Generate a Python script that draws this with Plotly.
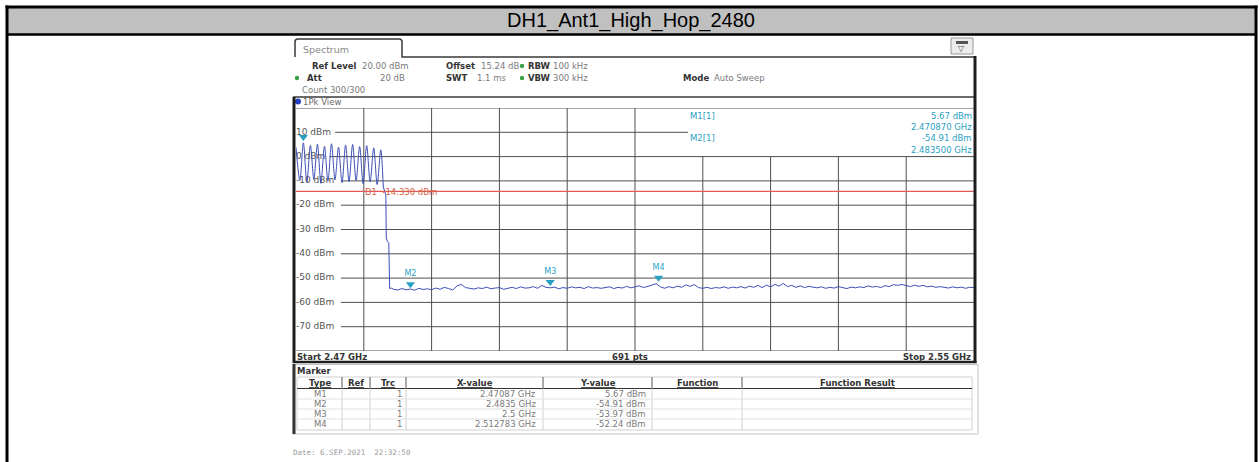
import plotly.graph_objects as go

W, H = 1260, 462

title_text = "DH1_Ant1_High_Hop_2480"

# Sweep settings
f_start_ghz, f_stop_ghz = 2.47, 2.55
level_top, level_bottom = 20, -80
d1_level = -14.33

# Hopping channels (peaks / troughs of the max-hold trace)
hop_freq_mhz = [2470.00, 2470.46, 2470.87, 2471.28, 2471.70, 2472.11, 2472.53, 2472.94,
                2473.36, 2473.77, 2474.19, 2474.60, 2475.02, 2475.43, 2475.85, 2476.26,
                2476.68, 2477.09, 2477.51, 2477.92, 2478.34, 2478.75, 2479.17, 2479.58,
                2480.00, 2480.30]
hop_level = [3.8, -9.8, 5.67, -10.6, 4.6, -9.4, 5.1, -11.0,
             4.2, -10.1, 5.3, -9.6, 3.9, -10.8, 4.8, -10.3,
             5.0, -9.9, 4.1, -11.2, 4.5, -10.4, 3.6, -11.5,
             2.8, -12.5]

# Band edge roll-off
edge_freq_mhz = [2480.30, 2480.50, 2480.60, 2480.65, 2480.80, 2480.95, 2481.05, 2481.25]
edge_level = [-12.5, -15.3, -15.6, -33.5, -35.0, -35.4, -54.3, -54.1]

# Noise floor, 0.5 MHz spacing from 2481.5 MHz
floor_start_mhz = 2481.5
floor_step_mhz = 0.5
floor_level = [
    -54.6, -54.9, -54.3, -54.8, -54.5, -55.0, -54.2, -54.7, -54.4, -54.8,
    -54.1, -54.6, -53.8, -54.3, -54.9, -53.2, -52.6, -53.9, -54.2, -54.5,
    -54.0, -54.3, -53.7, -54.4, -54.1, -53.9, -54.6, -54.2, -53.8, -54.3,
    -53.6, -54.1, -54.0, -53.5, -54.2, -53.0, -53.8, -54.0, -53.7, -54.4,
    -53.9, -54.2, -53.6, -54.0, -53.8, -54.3, -53.5, -54.1, -53.9, -54.2,
    -54.0, -53.6, -54.3, -53.8, -54.1, -53.4, -54.0, -53.7, -53.2, -53.9,
    -53.5, -52.9, -52.3, -53.6, -54.2, -53.5, -54.0, -53.3, -53.8, -52.8,
    -53.4, -52.7, -53.9, -54.2, -53.8, -54.3, -53.9, -54.1, -53.6, -54.2,
    -53.7, -54.0, -53.5, -54.1, -53.3, -53.8, -53.0, -53.9, -52.9, -53.6,
    -52.6, -53.3, -52.2, -53.5, -53.0, -53.8, -53.2, -53.9, -53.4, -53.7,
    -54.0, -53.6, -54.2, -53.8, -54.1, -53.5, -53.9, -54.3, -53.7, -54.0,
    -53.6, -53.9, -53.2, -53.7, -53.4, -53.9, -53.1, -53.5, -52.7, -53.0,
    -52.6, -53.2, -53.5, -52.9, -53.4, -53.0, -53.6, -53.3, -53.8, -53.5,
    -53.9, -54.1, -53.6, -54.0, -53.7, -54.2, -53.8, -53.9,
]

# Markers
marker_names = ["M1", "M2", "M3", "M4"]
marker_freq_ghz = [2.47087, 2.4835, 2.5, 2.512783]
marker_level = [5.67, -54.91, -53.97, -52.24]
marker_x_text = ["2.47087 GHz", "2.4835 GHz", "2.5 GHz", "2.512783 GHz"]
marker_y_text = ["5.67 dBm", "-54.91 dBm", "-53.97 dBm", "-52.24 dBm"]
marker_trc = ["1", "1", "1", "1"]

y_tick_values = [10, 0, -10, -20, -30, -40, -50, -60, -70]

# ---------------------------------------------------------------- geometry
GL, GR, GT, GB = 296, 974, 108, 351      # grid box in pixels
INFO_L, INFO_B = 688, 156                # marker read-out box

FONT = "DejaVu Sans"
TEAL = "#2a9fc4"
TRACE = "#3c4fb6"
GRID = "#4f4f4f"
LABEL = "#333333"
VALUE = "#7a7a7a"

shapes = []
annotations = []


def X(px):
    return px / W


def Y(py):
    return 1 - py / H


def line(x0, y0, x1, y1, color, width=1, layer="above"):
    shapes.append(dict(type="line", xref="paper", yref="paper",
                       x0=X(x0), y0=Y(y0), x1=X(x1), y1=Y(y1),
                       line=dict(color=color, width=width), layer=layer))


def rect(x0, y0, x1, y1, fill=None, color=None, width=0, layer="above"):
    shapes.append(dict(type="rect", xref="paper", yref="paper",
                       x0=X(x0), y0=Y(y0), x1=X(x1), y1=Y(y1),
                       fillcolor=fill or "rgba(0,0,0,0)",
                       line=dict(color=color or "rgba(0,0,0,0)", width=width),
                       layer=layer))


def dot(cx, cy, r, color):
    shapes.append(dict(type="circle", xref="paper", yref="paper",
                       x0=X(cx - r), y0=Y(cy + r), x1=X(cx + r), y1=Y(cy - r),
                       fillcolor=color, line=dict(width=0)))


def text(x, y, s, size=8.5, color=LABEL, anchor="left", bold=False, family=FONT):
    annotations.append(dict(x=X(x), y=Y(y), xref="paper", yref="paper",
                            text=f"<b>{s}</b>" if bold else s, showarrow=False,
                            xanchor=anchor, yanchor="middle",
                            borderpad=0, borderwidth=0,
                            font=dict(family=family, size=size, color=color)))


def px_to_ghz(px):
    return f_start_ghz + (px - GL) / (GR - GL) * (f_stop_ghz - f_start_ghz)


def py_to_dbm(py):
    return level_top - (py - GT) / (GB - GT) * (level_top - level_bottom)


def grid(x0, y0, x1, y1):
    shapes.append(dict(type="line", xref="x", yref="y", x0=x0, y0=y0, x1=x1, y1=y1,
                       line=dict(color=GRID, width=1), layer="below"))


# ---------------------------------------------------------------- grid
label_text = [f"{v} dBm" for v in y_tick_values]
n_div = 10
for k in range(1, n_div):
    fx = f_start_ghz + k * (f_stop_ghz - f_start_ghz) / n_div
    top = 0 if fx > px_to_ghz(INFO_L) else level_top
    grid(fx, level_bottom, fx, top)
grid(f_start_ghz, level_top, f_stop_ghz, level_top)
grid(f_start_ghz, level_bottom, f_stop_ghz, level_bottom)
for v, s in zip(y_tick_values, label_text):
    x_from = px_to_ghz(301 + 5.7 * len(s))
    x_to = px_to_ghz(INFO_L) if v > 0 else f_stop_ghz
    grid(x_from, v, x_to, v)

# ---------------------------------------------------------------- outer table
rect(7, 7, 1256, 34, fill="#c0c0c0")
line(5.5, 7, 1257.5, 7, "#000000", 3)
line(7, 34.5, 1256, 34.5, "#000000", 2.5)
line(7, 5.5, 7, 462, "#000000", 3)
line(1256, 5.5, 1256, 462, "#000000", 3)
text(631, 21, title_text, size=20, color="#000000", anchor="center",
     family="Liberation Sans")

# ---------------------------------------------------------------- analyzer window
shapes.append(dict(type="path", xref="paper", yref="paper",
                   path=(f"M {X(295)},{Y(57)} L {X(295)},{Y(42)} "
                         f"Q {X(295)},{Y(39)} {X(298)},{Y(39)} "
                         f"L {X(399)},{Y(39)} Q {X(402)},{Y(39)} {X(402)},{Y(42)} "
                         f"L {X(402)},{Y(57)} L {X(975)},{Y(57)}"),
                   line=dict(color="#3a3a3a", width=1.5)))
text(303, 49, "Spectrum", size=9.5, color="#8a8a8a")

# small icon at the top right
rect(951, 38, 973, 54, fill="#ececec", color="#9a9a9a", width=1)
rect(956, 41, 968, 44, fill="#555555")
text(962, 48.5, "▽", size=8, color="#555555", anchor="center")

# setting rows
text(312, 66, "Ref Level", bold=True)
text(362, 66, "20.00 dBm", color=VALUE)
text(446, 66, "Offset", bold=True)
text(481, 66, "15.24 dB", color=VALUE)
dot(522, 66, 2.2, "#3aa044")
text(528, 66, "RBW", bold=True)
text(553, 66, "100 kHz", color=VALUE)

dot(297, 78, 2.2, "#3aa044")
text(307, 78, "Att", bold=True)
text(405, 78, "20 dB", color=VALUE, anchor="right")
text(446, 78, "SWT", bold=True)
text(507, 78, "1.1 ms", color=VALUE, anchor="right")
dot(522, 78, 2.2, "#3aa044")
text(528, 78, "VBW", bold=True)
text(553, 78, "300 kHz", color=VALUE)
text(683, 78, "Mode", bold=True)
text(714, 78, "Auto Sweep", color=VALUE)

text(302, 90, "Count 300/300", color=VALUE)

# trace view header
line(293, 97, 975, 97, "#3a3a3a", 1.5)
dot(298, 101.5, 3, "#2040c0")
text(303, 101.5, "1Pk View", size=8.5, color="#6a6a6a")

# marker read-out box in the top right of the grid
text(690, 116, "M1[1]", color=TEAL)
text(690, 138, "M2[1]", color=TEAL)
text(972, 116, marker_y_text[0], color=TEAL, anchor="right")
text(972, 127, "2.470870 GHz", color=TEAL, anchor="right")
text(972, 138, marker_y_text[1], color=TEAL, anchor="right")
text(972, 150, "2.483500 GHz", color=TEAL, anchor="right")

# display line label
text(365, 192, "D1&nbsp;&nbsp;-14.330 dBm", size=8.5, color="#d8603f")

# frame around the trace area
line(294, 97, 294, 363, "#1e1e1e", 3)
line(975, 56, 975, 363, "#1e1e1e", 3)
line(293, 362, 976.5, 362, "#1e1e1e", 2.5)

text(297, 356.5, "Start 2.47 GHz", size=8.5, color="#333333", bold=True)
text(630, 356.5, "691 pts", size=8.5, color="#333333", anchor="center", bold=True)
text(971, 356.5, "Stop 2.55 GHz", size=8.5, color="#333333", anchor="right", bold=True)

# ---------------------------------------------------------------- marker table
rect(293, 364.5, 978, 434, color="#c4c4c4", width=1)
line(294, 364, 294, 434, "#333333", 3)
text(297, 370.5, "Marker", size=8.5, bold=True)

col_edges = [297, 342, 370, 406, 543, 652, 742, 972]
header = ["Type", "Ref", "Trc", "X-value", "Y-value", "Function", "Function Result"]
row_y = [394, 404, 414, 424]
rect(297, 377, 972, 430, color="#d0d0d0", width=1)
line(297, 388.5, 972, 388.5, "#333333", 1.2)
for xe in col_edges[1:-1]:
    line(xe, 377, xe, 388.5, "#555555", 1)
    line(xe, 388.5, xe, 430, "#d0d0d0", 1)
for yy in row_y[:-1]:
    line(297, yy + 5, 972, yy + 5, "#e0e0e0", 1)
for i, h in enumerate(header):
    text((col_edges[i] + col_edges[i + 1]) / 2, 382.5, f"<u>{h}</u>", size=8.5,
         color="#333333", anchor="center", bold=True)
for i in range(4):
    yy = row_y[i]
    text(320, yy, marker_names[i], color=VALUE, anchor="center")
    text(402, yy, marker_trc[i], color=VALUE, anchor="right")
    text(536, yy, marker_x_text[i], color=VALUE, anchor="right")
    text(646, yy, marker_y_text[i], color=VALUE, anchor="right")

text(293, 452, "Date: 6.SEP.2021&nbsp;&nbsp;22:32:50", size=7.5, color="#9a9a9a",
     family="DejaVu Sans Mono")

# ---------------------------------------------------------------- traces
fig = go.Figure()

label_x = px_to_ghz(296)
fig.add_trace(go.Scatter(
    x=[label_x] * len(y_tick_values), y=y_tick_values, text=label_text,
    mode="text", textposition="middle right",
    textfont=dict(family=FONT, size=9, color="#555555"),
    hoverinfo="skip", showlegend=False, cliponaxis=False))

fig.add_trace(go.Scatter(
    x=[f / 1000 for f in hop_freq_mhz], y=hop_level, mode="lines",
    line=dict(color=TRACE, width=1, shape="spline", smoothing=0.9),
    showlegend=False))

floor_freq_ghz = [(floor_start_mhz + i * floor_step_mhz) / 1000 for i in range(len(floor_level))]
fig.add_trace(go.Scatter(
    x=[f / 1000 for f in edge_freq_mhz] + floor_freq_ghz,
    y=edge_level + floor_level, mode="lines",
    line=dict(color=TRACE, width=1), showlegend=False))

# display line D1
fig.add_trace(go.Scatter(
    x=[f_start_ghz, f_stop_ghz], y=[d1_level, d1_level], mode="lines",
    line=dict(color="#e05a5a", width=1.2), showlegend=False))

# marker symbols, sitting just above their trace points
marker_lift = 2.4
fig.add_trace(go.Scatter(
    x=marker_freq_ghz, y=[v + marker_lift for v in marker_level],
    mode="markers+text", text=[""] + marker_names[1:], textposition="top center",
    textfont=dict(family=FONT, size=8, color=TEAL),
    marker=dict(symbol="triangle-down", size=8, color=TEAL),
    showlegend=False, cliponaxis=False))

fig.update_layout(
    width=W, height=H, autosize=False,
    margin=dict(l=0, r=0, t=0, b=0),
    paper_bgcolor="#ffffff", plot_bgcolor="#ffffff",
    showlegend=False,
    xaxis=dict(domain=[X(GL), X(GR)], range=[f_start_ghz, f_stop_ghz],
               showgrid=False, showticklabels=False, ticks="",
               zeroline=False, showline=False),
    yaxis=dict(domain=[Y(GB), Y(GT)], range=[level_bottom, level_top],
               showgrid=False, showticklabels=False, ticks="",
               zeroline=False, showline=False),
    shapes=shapes, annotations=annotations,
)

fig.write_html("out.html")
